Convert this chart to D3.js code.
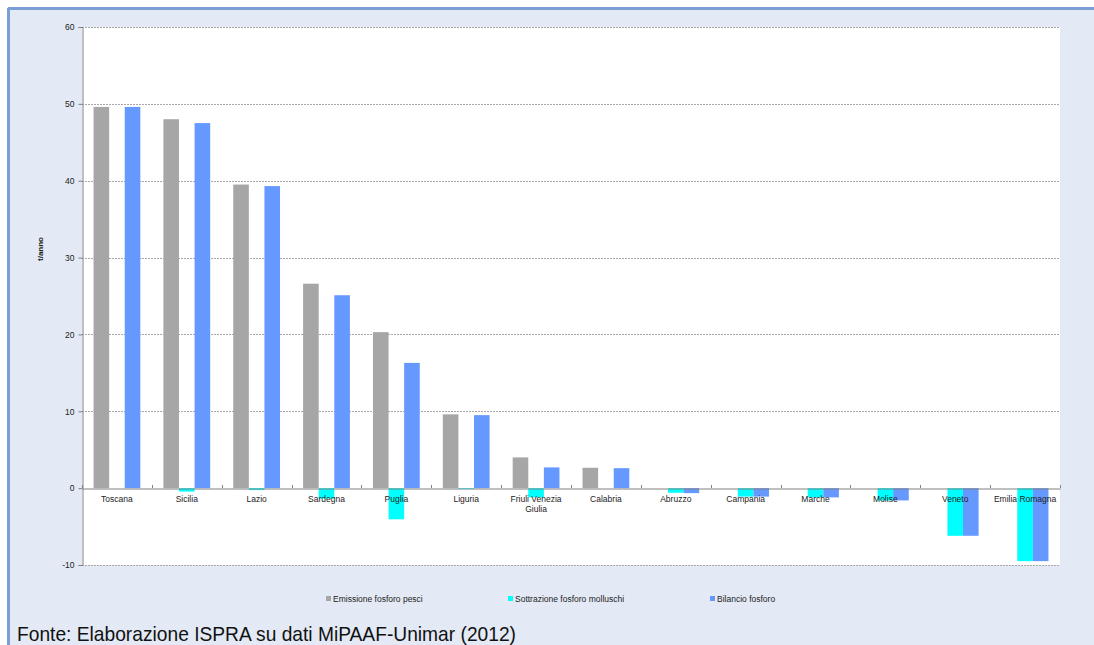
<!DOCTYPE html>
<html>
<head>
<meta charset="utf-8">
<script src="https://cdn.jsdelivr.net/npm/d3@7"></script>
<style>
  html, body { margin: 0; padding: 0; background: #ffffff; }
  svg { display: block; font-family: "Liberation Sans", Arial, sans-serif; }
</style>
</head>
<body>
<div id="chart"></div>
<script>
const regions = ["Toscana", "Sicilia", "Lazio", "Sardegna", "Puglia", "Liguria", "Friuli Venezia Giulia",
  "Calabria", "Abruzzo", "Campania", "Marche", "Molise", "Veneto", "Emilia Romagna"];
const emissionePesci = [49.6, 48.0, 39.5, 26.6, 20.3, 9.6, 4.0, 2.65, 0, 0, 0, 0, 0, 0];
const sottrazioneMolluschi = [0, -0.45, -0.25, -1.35, -4.05, -0.1, -1.2, 0, -0.6, -1.1, -1.2, -1.6, -6.2, -9.5];
const bilancioFosforo = [49.6, 47.5, 39.3, 25.1, 16.3, 9.5, 2.7, 2.6, -0.65, -1.1, -1.2, -1.6, -6.2, -9.5];
const yTicks = [-10, 0, 10, 20, 30, 40, 50, 60];

const seriesNames = ["Emissione fosforo pesci", "Sottrazione fosforo molluschi", "Bilancio fosforo"];
const seriesColors = ["#a6a6a6", "#00ffff", "#6699ff"];
const seriesValues = [emissionePesci, sottrazioneMolluschi, bilancioFosforo];

const W = 1094, H = 645;
const plot = { left: 82, right: 1060, top: 27, bottom: 565 };

const svg = d3.select("#chart").append("svg").attr("width", W).attr("height", H);

// outer panel with blue border top/left
svg.append("rect").attr("x", 8).attr("y", 8).attr("width", W).attr("height", H).attr("fill", "#e3eaf5");
svg.append("line").attr("x1", 8).attr("x2", W).attr("y1", 8.5).attr("y2", 8.5)
  .attr("stroke", "#7b9fd4").attr("stroke-width", 3);
svg.append("line").attr("x1", 8.5).attr("x2", 8.5).attr("y1", 8).attr("y2", H)
  .attr("stroke", "#7b9fd4").attr("stroke-width", 3);

// plot area
svg.append("rect").attr("x", plot.left).attr("y", plot.top)
  .attr("width", plot.right - plot.left).attr("height", plot.bottom - plot.top).attr("fill", "#ffffff");

const y = d3.scaleLinear().domain([-10, 60]).range([plot.bottom, plot.top]);
const x = d3.scaleBand().domain(regions).range([plot.left, plot.right]);
const x1 = d3.scaleBand().domain(d3.range(3)).range([0, x.bandwidth()]).paddingOuter(0.74).paddingInner(0);

// gridlines
svg.append("g").selectAll("line").data(yTicks.filter(t => t !== 0)).join("line")
  .attr("x1", plot.left).attr("x2", plot.right)
  .attr("y1", d => Math.round(y(d)) + 0.5).attr("y2", d => Math.round(y(d)) + 0.5)
  .attr("stroke", "#a8a8a8").attr("stroke-width", 1).attr("stroke-dasharray", "2,1");

// bars
regions.forEach((r, i) => {
  seriesValues.forEach((vals, s) => {
    const v = vals[i];
    if (v === 0) return;
    svg.append("rect")
      .attr("x", x(r) + x1(s))
      .attr("width", x1.bandwidth())
      .attr("y", y(Math.max(0, v)))
      .attr("height", Math.abs(y(v) - y(0)))
      .attr("fill", seriesColors[s]);
  });
});

// y axis
const yAxis = svg.append("g").attr("transform", `translate(${plot.left + 0.5},0)`)
  .call(d3.axisLeft(y).tickValues(yTicks).tickSize(4).tickPadding(4).tickFormat(d => String(d)));
yAxis.select(".domain").attr("stroke", "#808080");
yAxis.selectAll(".tick line").attr("stroke", "#808080");
yAxis.selectAll("text").attr("font-size", 8.5).attr("fill", "#222").attr("font-family", "Liberation Sans, Arial, sans-serif");

// x axis at zero
const xAxis = svg.append("g").attr("transform", `translate(0,${Math.round(y(0)) + 0.5})`)
  .call(d3.axisBottom(x).tickSize(0).tickFormat(""));
xAxis.select(".domain").attr("stroke", "#808080");
svg.append("g").selectAll("line").data(regions.concat(["end"])).join("line")
  .attr("x1", (d, i) => Math.round(plot.left + i * x.step()) + 0.5)
  .attr("x2", (d, i) => Math.round(plot.left + i * x.step()) + 0.5)
  .attr("y1", Math.round(y(0)) - 3).attr("y2", Math.round(y(0)))
  .attr("stroke", "#808080");

// category labels
const labels = svg.append("g").attr("font-size", 8.5).attr("fill", "#222").attr("text-anchor", "middle");
regions.forEach(r => {
  const cx = x(r) + x.bandwidth() / 2;
  const lines = r === "Friuli Venezia Giulia" ? ["Friuli Venezia", "Giulia"] : [r];
  lines.forEach((l, k) => {
    labels.append("text").attr("x", cx).attr("y", y(0) + 14 + k * 10).text(l);
  });
});

// y title
svg.append("text").attr("transform", `translate(43,249) rotate(-90)`)
  .attr("text-anchor", "middle").attr("font-size", 8).attr("font-weight", "bold").attr("fill", "#222")
  .text("t/anno");

// legend
const legendX = [326, 508, 710];
const legend = svg.append("g");
seriesNames.forEach((n, i) => {
  legend.append("rect").attr("x", legendX[i]).attr("y", 596).attr("width", 5).attr("height", 5).attr("fill", seriesColors[i]);
  legend.append("text").attr("x", legendX[i] + 7).attr("y", 602).attr("font-size", 8.5).attr("fill", "#222").text(n);
});

// source
svg.append("text").attr("x", 17).attr("y", 641).attr("font-size", 21).attr("fill", "#111")
  .attr("textLength", 499).attr("lengthAdjust", "spacingAndGlyphs")
  .text("Fonte: Elaborazione ISPRA su dati MiPAAF-Unimar (2012)");
</script>
</body>
</html>
